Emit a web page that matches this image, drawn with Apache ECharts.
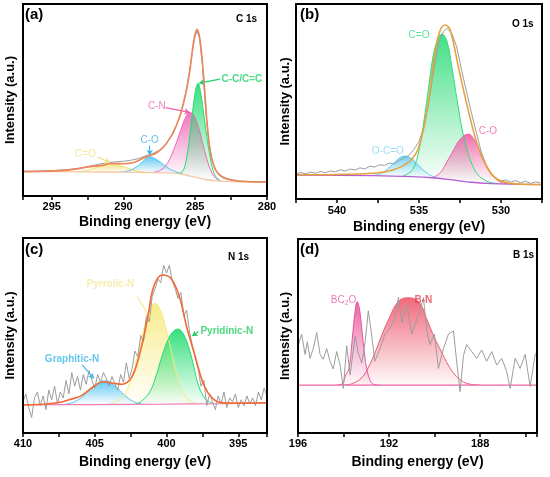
<!DOCTYPE html>
<html>
<head>
<meta charset="UTF-8" />
<title>XPS C 1s / O 1s / N 1s / B 1s</title>
<script src="https://cdn.jsdelivr.net/npm/echarts@6/dist/echarts.min.js"></script>
<style>
    html, body { margin: 0; padding: 0; background: #fff; }
    #main { width: 550px; height: 477px; }
</style>
</head>
<body>
<div id="main"></div>
<script>
// intensities are in % of each panel's height (0 = bottom of frame), x in eV

// (a) C 1s
var aBackground = [[297,12.7],[293,12.6],[290,12.4],[288,12.2],[286.5,11.9],[285.8,11.2],[285,9.8],[284.3,8.6],[283.5,7.9],[282.5,7.5],[281,7.3],[280,7.3]];
var aCdoubleO = [[293.5,12.6],[292.8,13.0],[292.2,14.0],[291.6,15.6],[291.0,16.7],[290.4,16.2],[289.8,14.8],[289.2,13.3],[288.5,12.4],[287.8,12.2]];
var aCO = [[290.4,12.4],[289.8,12.9],[289.2,14.6],[288.7,17.6],[288.2,20.5],[287.7,19.0],[287.2,16.3],[286.7,13.8],[286.2,12.2],[285.8,11.2]];
var aCN = [[288.0,12.2],[287.4,13.6],[286.9,17.5],[286.4,26],[286.0,34.5],[285.7,40.5],[285.4,43.6],[285.1,42],[284.8,36.5],[284.5,28],[284.2,19.5],[283.9,13],[283.6,9.5],[283.2,7.8]];
var aCC = [[286.3,11.8],[285.9,12.6],[285.6,20],[285.35,33],[285.15,46],[284.95,56],[284.8,58.7],[284.65,55],[284.45,45],[284.2,31],[284.0,22],[283.8,14.5],[283.6,10.5],[283.3,8.2]];
var aRaw = [[297,12.9],[296,13.0],[295,13.2],[294,13.7],[293,14.5],[292.5,15.3],[292,16.1],[291.5,16.9],[291,17.5],[290.5,17.8],[290,18.1],[289.5,18.6],[289,19.4],[288.5,20.8],[288,22.0],[287.5,23.8],[287,27.5],[286.5,33],[286,43],[285.6,56],[285.3,70],[285.05,82],[284.88,86],[284.7,82],[284.5,68],[284.3,47],[284.1,31],[283.9,20],[283.6,13.5],[283.3,10.5],[283,9.2],[282.5,8.3],[282,7.8],[281,7.5],[280,7.4]];
var aFit = [[297,12.7],[295.5,12.9],[293.9,13.5],[292.3,15.3],[291.6,15.8],[290.8,16.9],[290.0,16.8],[289.3,17.4],[288.4,20.5],[287.7,22.4],[287.0,27.4],[286.3,37],[285.76,50],[285.4,64],[285.1,81],[284.88,86.8],[284.66,81],[284.38,58.7],[284.15,36],[283.92,22.2],[283.57,13.5],[283.12,10],[282.43,8.3],[281.3,7.4],[280,7.3]];

// (b) O 1s
var bBackground = [[542.5,12.3],[537.8,12.0],[535.4,11.5],[534.2,10.9],[533.0,9.8],[531.8,8.6],[530.6,7.9],[529.5,7.6],[527.5,7.4]];
var bOCO = [[538.0,12.0],[537.4,12.8],[536.9,15.5],[536.4,19.5],[535.9,22],[535.5,21],[535.0,17],[534.5,13.2],[534.0,11.0],[533.5,10.2]];
var bCdoubleO = [[536.0,11.7],[535.4,15.0],[535.0,25],[534.7,40],[534.4,58],[534.1,75],[533.8,83],[533.6,84.6],[533.3,81],[533.0,68],[532.7,52],[532.4,37],[532.1,26],[531.8,18.5],[531.5,13.5],[531.1,10.2],[530.6,8.4],[530.0,7.8]];
var bCO = [[534.2,10.8],[533.7,13.5],[533.3,19],[532.9,25],[532.5,30.5],[532.0,33.3],[531.6,30],[531.2,23],[530.8,16],[530.4,11],[530.0,8.6],[529.5,7.7]];
var bRaw = [[542.5,12.8],[542.2,13.6],[541.9,12.9],[541.6,13.8],[541.3,13.2],[541.0,14.1],[540.7,13.5],[540.4,14.4],[540.1,13.9],[539.8,15.0],[539.5,14.3],[539.2,15.4],[538.9,14.8],[538.6,16.0],[538.3,15.4],[538.0,16.8],[537.7,16.4],[537.4,17.6],[537.1,17.2],[536.8,18.4],[536.5,18.0],[536.2,19.8],[535.9,21.0],[535.6,22.5],[535.3,25.5],[535.0,29.5],[534.7,37],[534.4,50],[534.1,66],[533.8,80],[533.5,86],[533.3,87.5],[533.0,85],[532.7,78],[532.4,66],[532.1,55],[531.8,44],[531.5,34],[531.2,24],[530.9,17],[530.6,12.5],[530.3,10.2],[530.0,9.2],[529.7,9.8],[529.4,8.6],[529.1,9.5],[528.8,8.3],[528.5,9.1],[528.2,8.0],[527.9,8.8],[527.6,8.2]];
var bFit = [[542.5,12.4],[540,12.6],[537.8,13.2],[536.6,14.9],[535.6,19.1],[535.0,26.8],[534.4,50.8],[534.0,76.4],[533.7,86.7],[533.4,89.2],[533.1,86.7],[532.6,67.8],[532.0,45.6],[531.4,26.8],[530.8,15.5],[530.2,10.0],[529.4,8.0],[528.5,7.5],[527.5,7.4]];

// (c) N 1s
var cBackground = [[410,14.4],[405,14.6],[400,14.8],[396,15.1],[393,15.4]];
var cGraphitic = [[407.2,14.6],[406.6,15.5],[406.0,17.8],[405.5,21],[405.0,24.5],[404.5,26.5],[404.3,26.7],[404.0,26.2],[403.5,23.5],[403.0,20],[402.5,17],[402.0,15.2],[401.5,14.7]];
var cPyrrolic = [[404.0,14.7],[403.4,16.5],[402.9,20],[402.5,27],[402.0,40],[401.5,56],[401.1,64.5],[400.8,66.5],[400.5,64],[400.2,58],[399.8,46],[399.4,33],[399.0,23],[398.5,17.5],[398.0,15.2],[397.5,14.7]];
var cPyridinic = [[402.2,14.7],[401.7,16.5],[401.1,22],[400.7,30],[400.4,37.4],[400.0,46],[399.6,51.5],[399.2,53.3],[398.8,50.5],[398.4,42.6],[398.1,34],[397.8,25],[397.4,18.5],[397.0,15.8],[396.5,14.8]];
var cRaw = [[410.0,16],[409.8,20],[409.6,13],[409.4,8],[409.2,18],[409.0,21],[408.8,14],[408.6,19],[408.4,12],[408.2,22],[408.0,17],[407.8,24],[407.6,15],[407.4,21],[407.2,18],[407.0,27],[406.8,20],[406.6,31],[406.4,24],[406.2,29],[406.0,22],[405.8,30],[405.6,25],[405.4,32],[405.2,27],[405.0,23],[404.8,30],[404.6,26],[404.4,31],[404.2,28],[404.0,24],[403.8,29],[403.6,25],[403.4,22],[403.2,30],[403.0,26],[402.8,36],[402.6,28],[402.4,33],[402.2,42],[402.0,39],[401.8,50],[401.6,47],[401.4,60],[401.2,57],[401.0,70],[400.8,74],[400.6,79],[400.4,77],[400.2,86],[400.0,82],[399.8,86],[399.6,78],[399.4,74],[399.2,69],[399.0,72],[398.8,60],[398.6,63],[398.4,52],[398.2,45],[398.0,39],[397.8,33],[397.6,24],[397.4,27],[397.2,14],[397.0,20],[396.8,16],[396.6,12],[396.4,19],[396.2,15],[396.0,21],[395.8,13],[395.6,18],[395.4,16],[395.2,20],[395.0,13],[394.8,17],[394.6,14],[394.4,19],[394.2,15],[394.0,18],[393.8,14],[393.6,21],[393.4,17],[393.2,23],[393.0,19]];
var cFit = [[410,14.4],[409,14.6],[408.2,15.0],[407.4,15.8],[406.8,17.0],[406.0,18.9],[405.1,23.7],[404.4,26.3],[403.7,25.5],[403.1,25.0],[402.4,28.9],[401.8,42.6],[401.3,59.6],[400.9,75.0],[400.3,81.0],[399.7,79.3],[399.1,69.9],[398.6,54.5],[398.0,39.1],[397.4,24.6],[396.8,17.8],[396.2,15.6],[395,15.3],[393,15.5]];

// (d) B 1s
var dBackground = [[196,24.7],[185.5,24.7]];
var dBN = [[194.0,24.7],[193.6,25.5],[193.2,28.5],[192.9,34],[192.6,41.9],[192.3,51],[192.0,59],[191.6,67.7],[191.2,69.7],[190.7,67.7],[190.3,57.4],[190.0,49],[189.7,41.9],[189.4,35],[189.1,29.9],[188.8,26.8],[188.5,25.3],[188.0,24.7]];
var dBC2O = [[194.3,24.7],[194.05,25.5],[193.9,30],[193.76,33.3],[193.6,50.5],[193.5,62],[193.4,67.7],[193.3,64],[193.17,50.5],[193.05,38],[192.98,33.3],[192.85,27.5],[192.7,25.2],[192.4,24.7]];
var dRaw = [[195.99,45],[195.84,51],[195.69,40.5],[195.59,47],[195.47,38.5],[195.33,43.5],[195.18,51.8],[195.03,40.5],[194.89,38],[194.74,43.5],[194.59,37],[194.45,33],[194.30,42],[194.15,35],[194.01,23],[193.86,45],[193.71,30],[193.49,50],[193.35,41],[193.20,36],[193.05,47],[192.91,63],[192.76,50],[192.62,37],[192.40,43.5],[192.18,51],[191.96,54],[191.74,59],[191.59,70],[191.44,57],[191.22,66],[191.00,51],[190.86,56],[190.64,63],[190.49,69.8],[190.34,52.6],[190.20,45.6],[190.01,51],[189.83,33.3],[189.61,43.5],[189.39,51],[189.17,52.6],[189.03,37],[188.88,21.3],[188.73,40],[188.59,45.6],[188.37,42],[188.15,38.5],[187.93,42.8],[187.71,37],[187.49,42],[187.27,35],[187.05,38.5],[186.83,31.6],[186.68,23],[186.46,38.5],[186.24,33.3],[186.02,40.5],[185.80,23.9],[185.58,40.5],[185.36,43.5]];

var FONT = '"Liberation Sans", Arial, Helvetica, sans-serif';

function rgba(hex, a) {
    var n = parseInt(hex.slice(1), 16);
    return 'rgba(' + (n >> 16) + ',' + ((n >> 8) & 255) + ',' + (n & 255) + ',' + a + ')';
}

// gradient: strong at the top of the peak, almost gone at the background level
function peakFill(hex, data, base) {
    var top = Math.max.apply(null, data.map(function (d) { return d[1]; }));
    var stop = Math.min(0.98, Math.max(0.2, 1 - base / top));
    return new echarts.graphic.LinearGradient(0, 0, 0, 1, [
        { offset: 0, color: rgba(hex, 0.9) },
        { offset: stop, color: rgba(hex, 0.03) },
        { offset: 1, color: rgba(hex, 0) }
    ]);
}

function peak(gi, data, hex, base) {
    return {
        type: 'line', xAxisIndex: gi, yAxisIndex: gi, data: data, z: 2,
        smooth: 0.4, symbol: 'none', silent: true,
        lineStyle: { color: hex, width: 1 },
        areaStyle: { color: peakFill(hex, data, base), origin: 'start', opacity: 1 }
    };
}

// background line; the white area under it hides the tails of the fills
function backdrop(gi, data, hex) {
    return {
        type: 'line', xAxisIndex: gi, yAxisIndex: gi, data: data, z: 3,
        smooth: 0.3, symbol: 'none', silent: true,
        lineStyle: { color: hex, width: 1.3 },
        areaStyle: { color: '#fff', opacity: 1, origin: 'start' }
    };
}

function rawLine(gi, data) {
    return {
        type: 'line', xAxisIndex: gi, yAxisIndex: gi, data: data, z: 4,
        symbol: 'none', silent: true,
        lineStyle: { color: '#9c9c9c', width: 1 }
    };
}

function fitLine(gi, data, hex) {
    return {
        type: 'line', xAxisIndex: gi, yAxisIndex: gi, data: data, z: 5,
        smooth: 0.35, symbol: 'none', silent: true,
        lineStyle: { color: hex, width: 1.6 }
    };
}

function notes(gi, texts, arrows) {
    return {
        type: 'scatter', xAxisIndex: gi, yAxisIndex: gi, z: 6, silent: true,
        symbolSize: 1, itemStyle: { color: 'rgba(0,0,0,0)' },
        data: texts.map(function (t) {
            return {
                value: [t.x, t.y],
                label: {
                    show: true, position: 'inside', formatter: t.text,
                    color: t.c, fontSize: 10, fontFamily: FONT,
                    fontWeight: t.b ? 'bold' : 'normal',
                    rich: t.rich || {}
                }
            };
        }),
        markLine: {
            silent: true, animation: false, symbol: ['none', 'arrow'], symbolSize: 5,
            label: { show: false },
            data: arrows.map(function (l) {
                return [
                    { coord: [l[0], l[1]], lineStyle: { color: l[4], width: 1.2, type: 'solid' } },
                    { coord: [l[2], l[3]] }
                ];
            })
        }
    };
}

function xAxis(gi, o) {
    var ax = {
        gridIndex: gi, type: 'value', inverse: true, min: o.min, max: o.max,
        name: 'Binding energy (eV)', nameLocation: 'middle', nameGap: o.nameGap,
        nameTextStyle: { fontFamily: FONT, fontWeight: 'bold', fontSize: 14, color: '#000' },
        axisLine: { onZero: false, lineStyle: { color: '#000', width: 2 } },
        axisTick: { inside: false, length: 4, lineStyle: { color: '#000', width: 1.5 } },
        axisLabel: {
            margin: o.margin, color: '#000', fontFamily: FONT, fontWeight: 'bold', fontSize: 11,
            formatter: function (v) { return Math.abs(v % o.every) < 1e-6 ? String(v) : ''; }
        },
        splitLine: { show: false }, z: 10
    };
    if (o.interval) ax.interval = o.interval;
    if (o.step) { ax.minInterval = o.step; ax.maxInterval = o.step; ax.splitNumber = 6; }
    return ax;
}

function yAxis(gi, gap) {
    return {
        gridIndex: gi, type: 'value', min: 0, max: 100,
        name: 'Intensity (a.u.)', nameLocation: 'middle', nameGap: gap,
        nameTextStyle: { fontFamily: FONT, fontWeight: 'bold', fontSize: 13, color: '#000' },
        axisLine: { show: false }, axisTick: { show: false }, axisLabel: { show: false },
        splitLine: { show: false }
    };
}

function frame(left, top, width, height) {
    return {
        left: left, top: top, width: width, height: height, show: true,
        borderColor: '#000', borderWidth: 2, backgroundColor: 'rgba(0,0,0,0)',
        z: 10, outerBoundsMode: 'none', containLabel: false
    };
}

function tag(text, left, top, size) {
    return {
        type: 'text', left: left, top: top, z: 20,
        style: { text: text, fill: '#000', font: 'bold ' + size + 'px ' + FONT }
    };
}

var myChart = echarts.init(document.getElementById('main'));

myChart.setOption({
    animation: false,
    backgroundColor: '#fff',
    grid: [
        frame(23, 4, 244, 192),
        frame(296, 4, 246, 195),
        frame(23, 238, 244, 195),
        frame(298, 239, 239, 194)
    ],
    xAxis: [
        xAxis(0, { min: 280, max: 297, interval: 2.5, every: 5, nameGap: 19, margin: 5 }),
        xAxis(1, { min: 527.5, max: 542.5, interval: 2.5, every: 5, nameGap: 21, margin: 6 }),
        xAxis(2, { min: 393, max: 410, step: 2.5, every: 5, nameGap: 22, margin: 5 }),
        xAxis(3, { min: 185.5, max: 196, step: 2, every: 4, nameGap: 22, margin: 5 })
    ],
    yAxis: [yAxis(0, 6), yAxis(1, 4), yAxis(2, 6), yAxis(3, 6)],
    graphic: [
        tag('(a)', 25, 7, 15), tag('C 1s', 236, 14, 10),
        tag('(b)', 300, 7, 15), tag('O 1s', 512, 19, 10),
        tag('(c)', 25, 242, 15), tag('N 1s', 228, 252, 10),
        tag('(d)', 300, 242, 15), tag('B 1s', 513, 250, 10)
    ],
    series: [
        // (a)
        peak(0, aCdoubleO, '#f3df72', 12.4),
        peak(0, aCO, '#4fc3f0', 12.2),
        peak(0, aCN, '#f067b6', 11),
        peak(0, aCC, '#22dc70', 10),
        backdrop(0, aBackground, '#f7c8a6'),
        rawLine(0, aRaw),
        fitLine(0, aFit, '#ec8557'),
        notes(0, [
            { text: 'C=O', x: 292.66, y: 21.7, c: '#f2e07e' },
            { text: 'C-O', x: 288.17, y: 29.2, c: '#35b4e8' },
            { text: 'C-N', x: 287.67, y: 46.9, c: '#ee5fb0' },
            { text: 'C-C/C=C', x: 281.75, y: 60.9, c: '#1fd36a', b: true }
        ], [
            [291.8, 20.3, 290.95, 17.4, '#f2e07e'],
            [288.17, 26.2, 288.17, 21.3, '#35b4e8'],
            [287.05, 46.0, 285.4, 43.6, '#ee5fb0'],
            [283.28, 60.9, 284.72, 58.8, '#1fd36a']
        ]),

        // (b)
        peak(1, bOCO, '#62cdf2', 11.5),
        peak(1, bCdoubleO, '#2fdc78', 10),
        peak(1, bCO, '#ee5fa3', 9),
        backdrop(1, bBackground, '#b45fd6'),
        rawLine(1, bRaw),
        fitLine(1, bFit, '#e8a13c'),
        notes(1, [
            { text: 'C=O', x: 535.0, y: 83.8, c: '#2fdc7a' },
            { text: 'C-O', x: 530.8, y: 34.8, c: '#ee5f9f' },
            { text: 'O-C=O', x: 536.9, y: 24.5, c: '#7fd3f2' }
        ], []),

        // (c)
        peak(2, cGraphitic, '#4fc3f0', 14.7),
        peak(2, cPyrrolic, '#f6ea80', 14.7),
        peak(2, cPyridinic, '#22dc70', 14.7),
        backdrop(2, cBackground, '#f27db5'),
        rawLine(2, cRaw),
        fitLine(2, cFit, '#f26a35'),
        notes(2, [
            { text: 'Pyrrolic-N', x: 403.91, y: 76.3, c: '#f5e69a', b: true },
            { text: 'Pyridinic-N', x: 395.8, y: 52.3, c: '#1fce5f', b: true },
            { text: 'Graphitic-N', x: 406.58, y: 37.9, c: '#3db9e9', b: true }
        ], [
            [402.04, 69.9, 401.17, 59.6, '#f5e69a'],
            [397.78, 52.0, 398.2, 49.7, '#1fce5f'],
            [405.88, 34.9, 405.07, 28.0, '#3db9e9']
        ]),

        // (d)
        peak(3, dBN, '#ee5a6e', 24.7),
        peak(3, dBC2O, '#e8559c', 24.7),
        backdrop(3, dBackground, '#f064a5'),
        rawLine(3, dRaw),
        notes(3, [
            {
                text: '{m|BC}{s|2}{m|O}', x: 194.0, y: 68.6, c: '#e85aa8',
                rich: {
                    m: { fontSize: 10, color: '#e85aa8', fontFamily: FONT, lineHeight: 13 },
                    s: { fontSize: 7, color: '#e85aa8', fontFamily: FONT, lineHeight: 13, verticalAlign: 'bottom' }
                }
            },
            { text: 'B-N', x: 190.49, y: 68.6, c: '#e8404f', b: true }
        ], [])
    ]
});
</script>
</body>
</html>
